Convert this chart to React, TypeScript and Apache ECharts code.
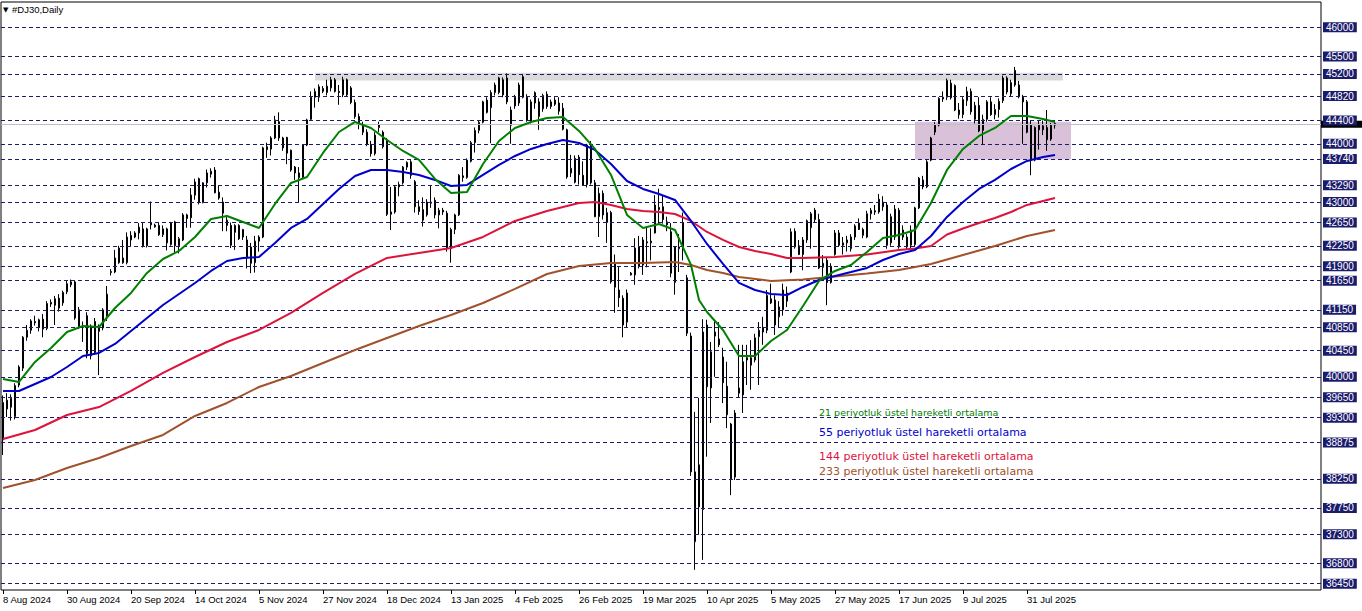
import React, { useEffect, useRef } from "react";
import * as echarts from "echarts";

// ---------- data ----------
const SYMBOL_TITLE = "#DJ30,Daily";
const TICK_LABELS = [
  "8 Aug 2024", "30 Aug 2024", "20 Sep 2024", "14 Oct 2024", "5 Nov 2024", "27 Nov 2024",
  "18 Dec 2024", "13 Jan 2025", "4 Feb 2025", "26 Feb 2025", "19 Mar 2025", "10 Apr 2025",
  "5 May 2025", "27 May 2025", "17 Jun 2025", "9 Jul 2025", "31 Jul 2025",
];
const LABEL_EVERY = 16;
const SLOT_COUNT = 330; // bars + empty right margin of the chart

const LEVELS = [
  46000, 45500, 45200, 44820, 44400, 44000, 43740, 43290, 43000, 42650, 42250, 41900, 41650,
  41150, 40850, 40450, 40000, 39650, 39300, 38875, 38250, 37750, 37300, 36800, 36450,
];
// price-scale labels that remain (at least partly) visible next to the level tags
const SCALE_MARKS = [
  36406, 36976, 37531, 38101, 38671, 39226, 39796, 40366, 40936, 41491, 42061, 43201, 44911, 45481,
];
const BID = 44335;
const Y_MIN = 36342;
const Y_MAX = 46434;

// zones: [fromBar, toBar, low, high]
const RESISTANCE_ZONE = [78, 265, 45085, 45220];
const SUPPORT_ZONE = [228, 267, 43730, 44380];

const LEGEND_LABELS = [
  "21 periyotluk üstel hareketli ortalama",
  "55 periyotluk üstel hareketli ortalama",
  "144 periyotluk üstel hareketli ortalama",
  "233 periyotluk üstel hareketli ortalama",
];

// [open, high, low, close]
const OHLC: number[][] = [
  [38920,39680,38660,39560],[39600,39720,39310,39450],[39630,39700,39250,39480],[39320,39890,39270,39850],
  [39860,40200,39820,40170],[40150,40700,40100,40680],[40680,40890,40620,40800],[40800,40990,40740,40960],
  [40950,41050,40880,40930],[40850,41000,40780,40980],[40990,41080,40680,40820],[40830,41300,40800,41260],
  [41250,41330,41200,41280],[41340,41390,40890,41230],[41350,41420,41120,41180],[41270,41480,41220,41450],
  [41460,41660,41420,41600],[41580,41670,41540,41630],[41630,41660,40980,41010],[41150,41200,40820,40860],
  [40880,40950,40600,40850],[41050,41110,40320,40400],[40360,40900,40300,40870],[40950,41010,40380,40420],
  [40780,40900,40030,40840],[40840,41180,40800,41150],[41030,41560,40960,41420],[41790,41850,41740,41810],
  [41800,42180,41780,42040],[41960,42250,41940,42210],[42040,42350,41940,41960],[41960,42480,41930,42400],
  [42350,42500,42230,42430],[42400,42500,42380,42470],[42470,42640,42360,42570],[42540,42640,42220,42250],
  [42250,42560,42220,42540],[42640,43010,42530,42610],[42575,42630,42560,42605],[42600,42650,42420,42440],
  [42440,42600,42400,42540],[42540,42560,42170,42300],[42270,42660,42250,42640],[42660,42680,42140,42250],
  [42250,42400,42120,42370],[42350,42810,42330,42780],[42780,42800,42560,42720],[42730,43240,42560,43120],
  [43120,43400,43040,43345],[43400,43420,42960,42990],[42990,43340,42980,43330],[43330,43560,43250,43500],
  [43480,43580,43420,43530],[43550,43600,43150,43160],[43170,43290,43040,43070],[43000,43080,42500,42810],
  [42690,42750,42500,42600],[42600,42650,42210,42260],[42480,42620,42180,42600],[42600,42620,42350,42370],
  [42400,42540,42350,42530],[42350,42420,41860,42040],[42230,42300,41780,41950],[41960,42420,41790,42330],
  [42330,42430,42150,42400],[42400,43950,42380,43930],[43950,44020,43760,43900],[43910,44130,43800,44100],
  [44100,44480,44080,44410],[44380,44540,44050,44100],[44100,44120,43880,43930],[44110,44120,43650,43840],
  [43890,43900,43520,43550],[43600,43620,43380,43500],[43420,43600,43000,43500],[43420,43990,43400,43980],
  [43980,44430,43960,44410],[44420,44900,44400,44800],[44800,44950,44620,44900],[44800,45020,44720,44980],
  [44900,44990,44870,44950],[44880,45100,44830,44990],[44960,45150,44900,45100],[45100,45130,44880,44900],
  [44900,45010,44670,44880],[44840,45150,44800,45100],[45100,45120,44820,44840],[44960,44990,44680,44710],
  [44710,44760,44430,44470],[44470,44520,44250,44330],[44330,44380,44150,44200],[44200,44250,43960,43990],
  [43990,44050,43780,43830],[43830,44200,43800,44150],[44280,44380,44200,44330],[44200,44230,43920,43950],
  [44070,44100,42760,42790],[42790,43260,42520,42830],[42830,43280,42800,43260],[43260,43350,43100,43300],
  [43330,43620,43300,43600],[43600,43700,43550,43680],[43690,43720,43400,43460],[43350,43380,42820,42920],
  [42920,43030,42780,42840],[42870,43080,42580,42690],[42780,43050,42750,43000],[43000,43280,42900,42980],
  [43030,43080,42720,42780],[42780,42900,42550,42860],[42860,42900,42780,42830],[42810,42850,42150,42200],
  [42200,42560,41960,42530],[42530,42800,42450,42780],[42780,43480,42760,43460],[43450,43600,43350,43420],
  [43420,43750,43400,43720],[43700,44050,43680,44020],[44020,44280,43850,44230],[44230,44400,44180,44370],
  [44370,44740,44350,44720],[44750,44800,44520,44540],[44620,44920,44010,44880],[44880,45050,44830,45010],
  [44880,45150,44850,45130],[45100,45140,44800,44840],[45130,45210,44680,44720],[44580,44640,44000,44320],
  [44650,44840,44600,44800],[44700,45050,44650,45010],[45150,45200,44780,44800],[44800,44850,44380,44410],
  [44390,44760,44350,44720],[44700,44900,44600,44880],[44720,44780,44240,44470],[44600,44860,44550,44830],
  [44850,44900,44600,44640],[44640,44760,44600,44720],[44750,44800,44650,44680],[44700,44800,44500,44560],
  [44610,44700,44230,44250],[44240,44260,43400,43430],[43500,43810,43430,43580],[43750,43800,43320,43340],
  [43770,43810,43300,43470],[43460,43700,43280,43290],[43300,44000,43250,43980],[43980,44050,43300,43330],
  [43330,43380,42740,42750],[42750,43250,42400,43150],[43150,43200,42700,42780],[42650,42900,42300,42820],
  [42820,42850,41600,41630],[41950,42100,41100,41540],[41490,41900,41200,41360],[41350,41400,40680,40890],
  [40940,41500,40850,41440],[41750,41800,41740,41780],[41750,42380,41580,42210],[41900,42420,41860,42230],
  [41920,42400,41750,42350],[42300,42560,41880,42320],[42300,42550,42000,42330],[42470,43120,42460,42950],
  [42870,43230,42640,42910],[42920,43120,42630,42700],[42660,42750,42500,42610],[42490,42640,41710,41780],
  [41620,42240,41410,42230],[42200,42450,41800,42230],[42230,42820,42000,42640],[41700,41750,40700,40750],
  [40700,40760,38300,38370],[37170,39400,36690,38370],[38490,39640,37290,37770],[37720,40990,36860,40770],
  [40890,40980,38630,39830],[39810,40600,39210,40430],[40770,40980,40000,40700],[40650,40940,40510,40550],
  [40340,40500,39550,39900],[39840,40260,39120,39350],[39190,39210,37970,38250],[38280,39430,38230,39380],
  [39810,40550,39650,39720],[39690,40550,39380,40260],[40290,40550,39860,40330],[40200,40630,39780,40330],
  [40290,40740,40250,40670],[40690,40940,39860,40800],[40850,41030,40550,40770],[40800,41490,40750,41400],
  [41340,41600,41250,41270],[41320,41400,40720,40890],[41030,41300,40850,41200],[41150,41600,41050,41490],
  [41440,41550,41200,41300],[41800,42550,41780,42490],[42500,42550,42200,42230],[42250,42350,42090,42100],
  [42100,42400,41830,42350],[42350,42700,42300,42680],[42560,42830,42200,42800],[42860,42900,42650,42700],
  [42700,42800,41850,41870],[41880,42090,41720,41950],[42000,42040,41230,41620],[41620,41950,41600,41900],
  [42100,42520,42080,42470],[42470,42520,42230,42260],[42260,42400,42100,42300],[42300,42420,42150,42350],
  [42200,42450,42150,42400],[42400,42620,42350,42590],[42640,42720,42520,42530],[42530,42560,42380,42430],
  [42400,42850,42380,42800],[42800,42900,42700,42860],[42850,42950,42780,42830],[42830,43140,42800,43050],
  [42920,43100,42850,43000],[42950,43000,42200,42260],[42300,42800,42250,42750],[42400,42950,42350,42880],
  [42860,42900,42200,42230],[42520,42600,42350,42400],[42400,42450,42180,42230],[42260,42600,42200,42520],
  [42270,42920,42240,42900],[42900,43430,42880,43410],[43380,43450,43220,43260],[43260,43720,43240,43690],
  [43720,44120,43700,44100],[44200,44370,44150,44320],[44320,44800,44300,44780],[44770,44900,44720,44800],
  [44800,45120,44750,45090],[45040,45100,44760,44790],[45000,45020,44560,44580],[44580,44700,44430,44500],
  [44500,44800,44440,44760],[44740,44980,44650,44900],[44900,44950,44500,44550],[44420,44720,44350,44660],
  [44660,44800,44200,44220],[44230,44500,43980,44420],[44420,44750,44380,44720],[44720,44800,44480,44500],
  [44500,44680,44420,44590],[44590,44780,44450,44730],[44740,45170,44700,45130],[45130,45160,44850,44890],
  [44860,45100,44820,45050],[45260,45320,44980,45010],[45010,45080,44780,44810],[44800,44840,44000,44720],
  [44720,44750,44180,44200],[44320,44400,43460,43720],[43720,44300,43700,44280],[44320,44400,43900,44240],
  [44240,44400,44150,44310],[44280,44580,43880,44070],[44080,44360,44050,44320],[44320,44400,44260,44350],
];

// moving-average readings: [bar index, value]
const EMA21 = [
  [0,39964],[4,39912],[8,40256],[12,40496],[16,40771],[20,40874],[24,40856],[28,41182],[32,41440],
  [36,41783],[40,42023],[44,42161],[48,42401],[52,42710],[56,42762],[60,42659],[64,42556],[68,42968],
  [72,43328],[76,43431],[80,43843],[84,44203],[88,44375],[92,44272],[96,44066],[100,43877],[104,43723],
  [108,43397],[112,43156],[116,43174],[120,43654],[124,44049],[128,44272],[132,44375],[136,44444],
  [140,44461],[144,44221],[148,43912],[152,43466],[156,42779],[160,42556],[164,42624],[168,42521],
  [172,41921],[174,41320],[176,41114],[180,40805],[184,40359],[188,40359],[192,40616],[196,40805],
  [200,41217],[204,41646],[208,41818],[212,41921],[216,42144],[220,42384],[224,42435],[228,42521],
  [232,42985],[236,43551],[240,43912],[244,44135],[248,44272],[252,44478],[256,44478],[260,44426],[263,44375],
];
const EMA55 = [
  [0,39758],[4,39758],[8,39878],[12,39998],[16,40169],[20,40359],[24,40410],[28,40565],[32,40788],
  [36,41011],[40,41234],[44,41423],[48,41612],[52,41818],[56,41989],[60,42041],[64,42058],[68,42298],
  [72,42556],[76,42710],[80,42968],[84,43225],[88,43448],[92,43551],[96,43551],[100,43517],[104,43466],
  [108,43380],[112,43276],[116,43294],[120,43466],[124,43637],[128,43791],[132,43912],[136,43997],
  [140,44066],[144,44014],[148,43895],[152,43654],[156,43362],[160,43225],[164,43139],[168,43036],
  [172,42676],[176,42281],[180,41938],[184,41612],[188,41491],[192,41423],[196,41405],[200,41543],
  [204,41663],[208,41732],[212,41800],[216,41869],[220,42006],[224,42109],[228,42178],[232,42418],
  [236,42745],[240,43002],[244,43225],[248,43380],[252,43568],[256,43706],[260,43774],[263,43809],
];
const EMA144 = [
  [0,38934],[8,39088],[16,39346],[24,39482],[32,39758],[40,40067],[48,40341],[56,40599],[64,40805],
  [72,41097],[80,41440],[88,41766],[96,42041],[104,42127],[112,42212],[120,42401],[128,42676],[136,42847],
  [144,42985],[148,43002],[152,42951],[156,42882],[160,42847],[164,42831],[168,42796],[172,42676],
  [176,42487],[180,42350],[184,42229],[188,42161],[192,42109],[196,42041],[200,42041],[208,42058],
  [216,42101],[224,42178],[228,42204],[232,42247],[236,42444],[240,42547],[244,42641],[248,42727],
  [252,42830],[256,42951],[263,43071],
];
const EMA233 = [
  [0,38093],[8,38230],[16,38436],[24,38608],[32,38814],[40,39003],[48,39329],[56,39552],[64,39826],
  [72,40015],[80,40238],[88,40461],[96,40667],[104,40873],[112,41062],[120,41268],[128,41509],[136,41766],
  [144,41904],[152,41955],[160,41955],[168,41972],[172,41921],[176,41835],[180,41783],[184,41715],
  [192,41646],[200,41672],[208,41723],[216,41775],[224,41835],[232,41938],[240,42092],[248,42247],
  [256,42418],[263,42521],
];

// ---------- helpers ----------
const MONTHS = ["Jan","Feb","Mar","Apr","May","Jun","Jul","Aug","Sep","Oct","Nov","Dec"];
function barDates(n: number): string[] {
  const out: string[] = [];
  const d = new Date(2024, 7, 8);
  while (out.length < n) {
    const w = d.getDay();
    if (w !== 0 && w !== 6) out.push(`${d.getDate()} ${MONTHS[d.getMonth()]} ${d.getFullYear()}`);
    d.setDate(d.getDate() + 1);
  }
  return out;
}

const NAVY = "#1b1b6c";
const AXIS_FONT = "Liberation Sans";
const LEGEND_COLORS = ["#008000", "#0000cd", "#dc143c", "#a0522d"];
const LEGEND_Y = [412, 432, 456, 471];
const LEGEND_SIZE = [9.5, 11, 11, 11];

export default function App() {
  const ref = useRef<HTMLDivElement>(null);

  useEffect(() => {
    if (!ref.current) return;
    const chart = echarts.init(ref.current, undefined, { renderer: "svg" });
    const cats = barDates(SLOT_COUNT);
    const isLabel = (i: number) => i % LABEL_EVERY === 0 && i / LABEL_EVERY < TICK_LABELS.length;

    const emaSeries = (name: string, data: number[][], color: string) => ({
      name,
      type: "line",
      data,
      symbol: "none",
      showSymbol: false,
      silent: true,
      z: 5,
      lineStyle: { color, width: 2 },
    });

    const option: any = {
      animation: false,
      backgroundColor: "#ffffff",
      grid: {
        left: 1, top: 2, width: 1320, height: 588,
        show: true, borderColor: "#000", borderWidth: 1, backgroundColor: "transparent",
      },
      xAxis: {
        type: "category",
        data: cats,
        boundaryGap: true,
        axisLine: { show: false },
        splitLine: { show: false },
        axisTick: {
          show: true, alignWithLabel: true, length: 4,
          interval: (i: number) => isLabel(i),
          lineStyle: { color: "#000", width: 1 },
        },
        axisLabel: {
          interval: (i: number) => isLabel(i),
          formatter: (_v: string, i: number) => TICK_LABELS[i / LABEL_EVERY] ?? "",
          align: "left",
          margin: 4,
          color: "#000",
          fontFamily: AXIS_FONT,
          fontSize: 9.5,
        },
      },
      yAxis: {
        type: "value",
        min: Y_MIN,
        max: Y_MAX,
        position: "right",
        axisLabel: { show: false },
        axisLine: { show: false },
        axisTick: { show: false },
        splitLine: { show: false },
      },
      series: [
        {
          name: "zones",
          type: "line",
          data: [],
          z: 1,
          silent: true,
          markArea: {
            silent: true,
            data: [
              [
                { xAxis: RESISTANCE_ZONE[0], yAxis: RESISTANCE_ZONE[2], itemStyle: { color: "#d9d9d9" } },
                { xAxis: RESISTANCE_ZONE[1], yAxis: RESISTANCE_ZONE[3] },
              ],
              [
                { xAxis: SUPPORT_ZONE[0], yAxis: SUPPORT_ZONE[2], itemStyle: { color: "#d8c1d9" } },
                { xAxis: SUPPORT_ZONE[1], yAxis: SUPPORT_ZONE[3] },
              ],
            ],
          },
        },
        {
          name: "scale",
          type: "line",
          data: [],
          z: 2,
          silent: true,
          markLine: {
            silent: true,
            symbol: ["none", "none"],
            lineStyle: { opacity: 0 },
            label: {
              show: true, position: "end", distance: 3, color: "#000",
              fontFamily: AXIS_FONT, fontSize: 9.5,
              formatter: (p: any) => String(p.value),
            },
            data: SCALE_MARKS.map((v) => ({ yAxis: v })),
          },
        },
        {
          name: "DJ30",
          type: "candlestick",
          data: OHLC.map(([o, h, l, c]) => [o, c, l, h]),
          barWidth: 2,
          z: 3,
          silent: true,
          itemStyle: {
            color: "#ffffff", color0: "#000000",
            borderColor: "#000000", borderColor0: "#000000", borderWidth: 1,
          },
        },
        emaSeries("EMA 233", EMA233, "#a0522d"),
        emaSeries("EMA 144", EMA144, "#dc143c"),
        emaSeries("EMA 55", EMA55, "#0000cd"),
        emaSeries("EMA 21", EMA21, "#008000"),
        {
          name: "bid",
          type: "line",
          data: [],
          z: 6,
          silent: true,
          markLine: {
            silent: true,
            symbol: ["none", "none"],
            lineStyle: { color: "#c0c0c0", width: 1, type: "solid" },
            label: {
              show: true, position: "end", distance: 0, color: "#000",
              backgroundColor: "#000", padding: 0, width: 41, height: 7,
              fontSize: 6, lineHeight: 7,
              formatter: () => " ",
            },
            data: [{ yAxis: BID }],
          },
        },
        {
          name: "levels",
          type: "line",
          data: [],
          z: 7,
          silent: true,
          markLine: {
            silent: true,
            symbol: ["none", "none"],
            lineStyle: { color: NAVY, width: 1, type: [4, 3] },
            label: {
              show: true, position: "end", distance: 2, color: "#fff",
              backgroundColor: NAVY, padding: [0, 3, 0, 3], lineHeight: 10,
              fontFamily: AXIS_FONT, fontSize: 10,
              formatter: (p: any) => String(p.value),
            },
            data: LEVELS.map((v) => ({ yAxis: v })),
          },
        },
      ],
      graphic: [
        { type: "text", x: 3, y: 6, style: { text: "▼", font: "7px 'DejaVu Sans'", fill: "#000" } },
        { type: "text", x: 12, y: 4, style: { text: SYMBOL_TITLE, font: `9.5px '${AXIS_FONT}'`, fill: "#000" } },
        ...LEGEND_LABELS.map((t, k) => ({
          type: "text",
          x: 819,
          y: LEGEND_Y[k],
          style: {
            text: t,
            font: `${LEGEND_SIZE[k]}px 'DejaVu Sans'`,
            fill: LEGEND_COLORS[k],
            verticalAlign: "middle",
          },
        })),
      ],
    };

    chart.setOption(option);
    return () => chart.dispose();
  }, []);

  return (
    <div
      ref={ref}
      style={{ position: "absolute", left: 0, top: 0, width: 1362, height: 611, background: "#fff" }}
    />
  );
}
